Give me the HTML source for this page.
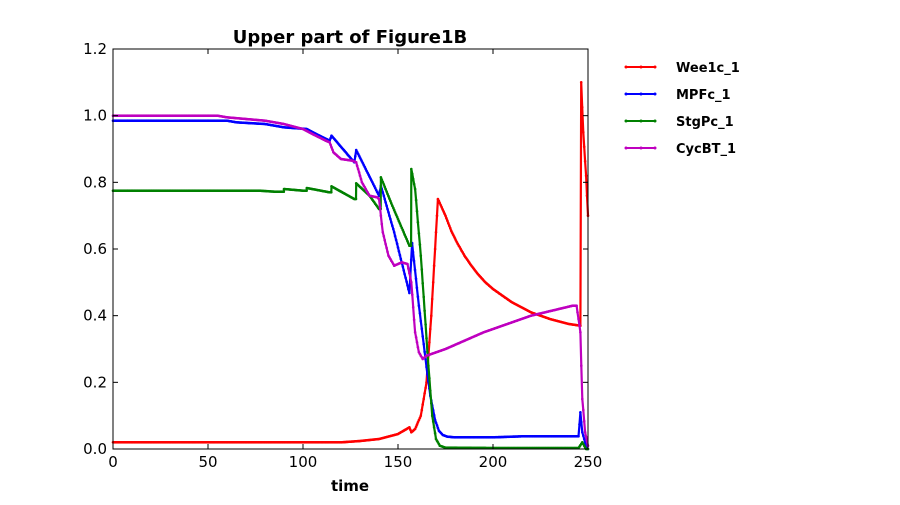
<!DOCTYPE html>
<html><head><meta charset="utf-8"><style>
body{margin:0;background:#fff}
svg text{font-family:"DejaVu Sans","Liberation Sans",sans-serif}
</style></head><body>
<svg id="chart" width="900" height="500">
<text x="350" y="43" text-anchor="middle" font-size="18" font-weight="bold">Upper part of Figure1B</text>
<text x="350" y="491" text-anchor="middle" font-size="15" font-weight="bold">time</text>
<g id="plot"></g>
<g id="legend"></g>
</svg>
<script>
const xTicks=[0,50,100,150,200,250];
const yTicks=[0.0,0.2,0.4,0.6,0.8,1.0,1.2];
const seriesNames=["Wee1c_1","MPFc_1","StgPc_1","CycBT_1"];
const seriesColors=["#ff0000","#0000ff","#008000","#bf00bf"];
const wee1T=[0,60,120,130,140,150,156,157,159,162,165,167.5,170,171,173,175,178,181,185,188,192,196,200,205,210,215,220,230,240,246,246.4,247.5,249,250];
const wee1V=[0.02,0.02,0.02,0.024,0.03,0.045,0.065,0.05,0.06,0.1,0.2,0.4,0.65,0.75,0.725,0.7,0.655,0.62,0.58,0.555,0.525,0.5,0.48,0.46,0.44,0.425,0.41,0.39,0.375,0.37,1.1,0.95,0.82,0.7];
const mpfT=[0,60,65,80,90,102,107,114,115,121,127,128,133,140,141,148,156,157.4,161,165,167,169.5,171.5,173.6,176,180,200,215,245,246,247,249,250];
const mpfV=[0.985,0.985,0.98,0.975,0.965,0.96,0.945,0.925,0.94,0.9,0.86,0.897,0.84,0.76,0.79,0.65,0.468,0.618,0.43,0.246,0.16,0.087,0.055,0.042,0.037,0.035,0.035,0.038,0.038,0.11,0.05,0.01,0.0];
const stgT=[0,77,85,89.9,90,100,101.9,102,114,114.9,115,127,127.9,128,135,140,140.9,141,147,156,156.9,157,159,162,166,168,170,172,175,200,245,247,249,250];
const stgV=[0.775,0.775,0.772,0.772,0.78,0.775,0.775,0.783,0.77,0.77,0.788,0.75,0.75,0.797,0.76,0.72,0.72,0.815,0.73,0.61,0.61,0.84,0.78,0.58,0.25,0.1,0.03,0.01,0.004,0.003,0.003,0.02,0.0,0.0];
const cycT=[0,55,60,70,80,90,100,105,112,114,116,120,126,128,131,135,139,140,142,145,148,152,155,157,159,161,163,165,175,195,220,242,244,246,247,248.5,250];
const cycV=[1.0,1.0,0.995,0.99,0.985,0.975,0.96,0.945,0.925,0.92,0.89,0.87,0.865,0.86,0.8,0.76,0.755,0.75,0.65,0.58,0.55,0.56,0.555,0.5,0.35,0.29,0.27,0.28,0.3,0.35,0.4,0.43,0.43,0.35,0.15,0.05,0.01];
const allT=[wee1T,mpfT,stgT,cycT], allV=[wee1V,mpfV,stgV,cycV];
const L=113,R=588,T=49,B=449;
const xs=t=>L+(t-0)/(250-0)*(R-L);
const ys=v=>B-(v-0)/(1.2-0)*(B-T);
const NS="http://www.w3.org/2000/svg";
const plot=document.getElementById('plot'),legend=document.getElementById('legend');
function mk(tag,attrs,parent){const e=document.createElementNS(NS,tag);for(const k in attrs)e.setAttribute(k,attrs[k]);parent.appendChild(e);return e;}
allT.forEach((ts,i)=>{
  const g=mk('g',{},plot);
  
  
  let pts=[];
  for(let j=0;j<ts.length-1;j++){
    const n=Math.max(1,Math.round((ts[j+1]-ts[j])*2));
    for(let k=0;k<n;k++){const f=k/n;pts.push([ts[j]+f*(ts[j+1]-ts[j]),allV[i][j]+f*(allV[i][j+1]-allV[i][j])]);}
  }
  pts.push([ts[ts.length-1],allV[i][ts.length-1]]);
  const d=pts.map((p,k)=>(k?'L':'M')+xs(p[0]).toFixed(1)+' '+ys(p[1]).toFixed(1)).join(' ');
  const line=mk('path',{d:d,fill:'none',stroke:seriesColors[i],'stroke-width':2.2,'stroke-linejoin':'round'},g);
  
  
  pts.forEach(p=>{mk('circle',{cx:xs(p[0]).toFixed(1),cy:ys(p[1]).toFixed(1),r:1.3,fill:seriesColors[i]},g);});
});
const fr=mk('rect',{x:L,y:T,width:R-L,height:B-T,fill:'none',stroke:'#000','stroke-width':1},plot);


xTicks.forEach(t=>{
  const x=xs(t);
  mk('line',{x1:x,x2:x,y1:B,y2:B-5,stroke:'#000'},plot);
  mk('line',{x1:x,x2:x,y1:T,y2:T+5,stroke:'#000'},plot);
  const tx=mk('text',{x:x,y:B+18,'text-anchor':'middle','font-size':15},plot);
  tx.textContent=t;
  
  
});
yTicks.forEach(v=>{
  const y=ys(v);
  mk('line',{x1:L,x2:L+5,y1:y,y2:y,stroke:'#000'},plot);
  mk('line',{x1:R,x2:R-5,y1:y,y2:y,stroke:'#000'},plot);
  const tx=mk('text',{x:L-6,y:y+5,'text-anchor':'end','font-size':15},plot);
  tx.textContent=v.toFixed(1);
  
  
});
seriesNames.forEach((n,i)=>{
  const y=67+i*27;
  const g=mk('g',{},legend);
  
  
  mk('line',{x1:626,x2:655,y1:y,y2:y,stroke:seriesColors[i],'stroke-width':2},g);
  [626,641,655].forEach(x=>mk('circle',{cx:x,cy:y,r:1.5,fill:seriesColors[i]},g));
  const tx=mk('text',{x:676,y:y+5,'font-size':13,'font-weight':'bold'},g);
  tx.textContent=n;
});
</script>
</body></html>
